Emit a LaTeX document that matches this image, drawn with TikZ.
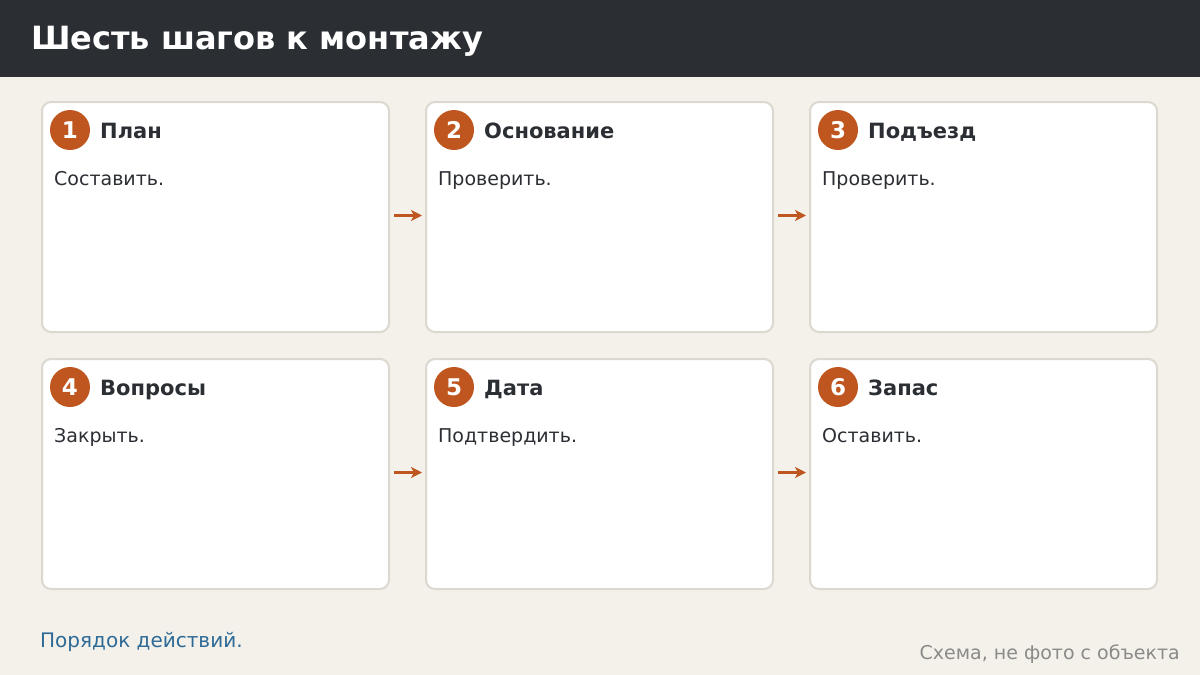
\documentclass[tikz,border=0pt]{standalone}
\usepackage{fontspec}
\setmainfont{DejaVu Sans}
\usetikzlibrary{arrows.meta}
\definecolor{bg}{HTML}{F4F1EB}
\definecolor{bar}{HTML}{2B2E33}
\definecolor{cardline}{HTML}{DDD8CF}
\definecolor{accent}{HTML}{C0561F}
\definecolor{ink}{HTML}{2B2E33}
\definecolor{note}{HTML}{2E6A96}
\definecolor{grey}{HTML}{8A8A88}
\tikzset{
  card/.style={draw=cardline, line width=2pt, fill=white, rounded corners=9pt, minimum width=347pt, minimum height=230pt, inner sep=0pt},
  badge/.style={circle, fill=accent, minimum size=40pt, inner sep=0pt, text=white, font=\fontsize{23}{26}\selectfont\bfseries},
  cardtitle/.style={anchor=base west, text=ink, font=\fontsize{21}{25}\selectfont\bfseries, inner sep=0pt},
  cardbody/.style={anchor=base west, text=ink, font=\fontsize{19}{23}\selectfont, inner sep=0pt},
  flow/.style={draw=accent, line width=3.5pt, -{Stealth[length=11pt,width=11pt,inset=3pt]}, shorten <=4pt, shorten >=3pt}
}
\begin{document}
\begin{tikzpicture}[x=1pt,y=-1pt]
\useasboundingbox (0,0) rectangle (1200,675);
\fill[bg] (0,0) rectangle (1200,675);
\fill[bar] (0,0) rectangle (1200,77);
\node[anchor=base west, text=white, font=\fontsize{32}{38}\selectfont\bfseries, inner sep=0pt] (title) at (31,49) {Шесть шагов к монтажу};
% cards
\foreach \i/\x/\y/\t/\b in {1/41/101/План/Составить., 2/425/101/Основание/Проверить., 3/809/101/Подъезд/Проверить., 4/41/358/Вопросы/Закрыть., 5/425/358/Дата/Подтвердить., 6/809/358/Запас/Оставить.}{
  \node[card, anchor=north west] (c\i) at (\x,\y) {};
  \node[badge] (n\i) at ([xshift=29pt,yshift=-29pt]c\i.north west) {\i};
  \node[cardtitle] (t\i) at ([xshift=59pt,yshift=-37pt]c\i.north west) {\t};
  \node[cardbody] (b\i) at ([xshift=13pt,yshift=-84pt]c\i.north west) {\b};
}
\draw[flow] ([yshift=1.5pt]c1.east) -- ([yshift=1.5pt]c2.west);
\draw[flow] ([yshift=1.5pt]c2.east) -- ([yshift=1.5pt]c3.west);
\draw[flow] ([yshift=1.5pt]c4.east) -- ([yshift=1.5pt]c5.west);
\draw[flow] ([yshift=1.5pt]c5.east) -- ([yshift=1.5pt]c6.west);
\node[anchor=base west, text=note, font=\fontsize{20}{24}\selectfont, inner sep=0pt] (foot) at (40,647) {Порядок действий.};
\node[anchor=base east, text=grey, font=\fontsize{19}{23}\selectfont, inner sep=0pt] (src) at (1180,659) {Схема, не фото с объекта};
\end{tikzpicture}
\end{document}
